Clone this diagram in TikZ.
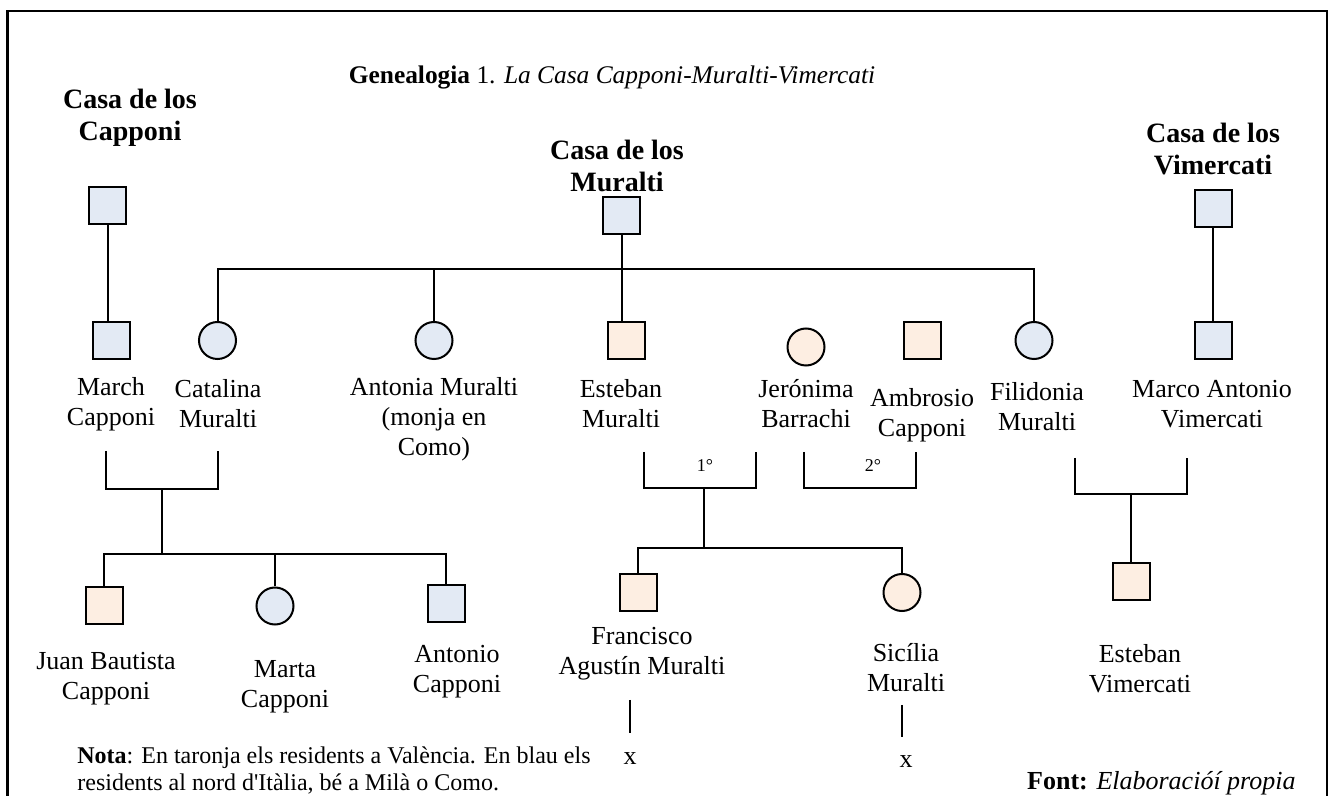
\documentclass[tikz,border=0pt]{standalone}
\usepackage{fontspec}
\setmainfont{Liberation Serif}[Ligatures=TeXOff]
\definecolor{famblue}{RGB}{227,234,244}
\definecolor{famorange}{RGB}{253,238,226}
\begin{document}
\begin{tikzpicture}[x=0.5pt,y=-0.5pt,
  person/.style={draw=black,line width=1pt,minimum size=18.5pt,inner sep=0pt},
  male/.style={person,rectangle},
  female/.style={person,circle},
  milan/.style={fill=famblue},
  valencia/.style={fill=famorange},
  link/.style={line width=1pt},
  namelbl/.style={align=center,inner sep=0pt,font=\fontsize{13}{15}\selectfont},
  househdr/.style={align=center,inner sep=0pt,font=\bfseries\fontsize{14}{16}\selectfont},
  ordinal/.style={inner sep=0pt,font=\fontsize{9}{10}\selectfont}]
\useasboundingbox (0,0) rectangle (1335,796);
% frame (open at the bottom)
\draw[line width=1.2pt] (7.5,796) -- (7.5,11) -- (1327,11) -- (1327,796);

% title and house headings
\node[inner sep=0pt,font=\fontsize{12.7}{15}\selectfont] (title) at (612,77)
  {\textbf{Genealogia} 1. \textit{La Casa Capponi-Muralti-Vimercati}};
\node[househdr] (hcap) at (130,118) {Casa de los\\Capponi};
\node[househdr] (hmur) at (617,166) {Casa de los\\Muralti};
\node[househdr] (hvim) at (1213,149) {Casa de los\\Vimercati};

% founders
\node[male,milan] (pcap) at (107.5,205.5) {};
\node[male,milan] (pmur) at (621.5,216) {};
\node[male,milan] (pvim) at (1213,208.5) {};

% second generation
\node[male,milan]       (march)     at (111.5,340.5) {};
\node[female,milan]     (catalina)  at (217.5,340.5) {};
\node[female,milan]     (antonia)   at (434,340.5) {};
\node[male,valencia]    (esteban)   at (626,340.5) {};
\node[female,valencia]  (jeronima)  at (806,347) {};
\node[male,valencia]    (ambrosio)  at (922,340.5) {};
\node[female,milan]     (filidonia) at (1034,340.5) {};
\node[male,milan]       (marco)     at (1213,340.5) {};

\node[namelbl] (lmarch) at (111,404) {March\\Capponi};
\node[namelbl] (lcat)   at (218,404) {Catalina\\Muralti};
\node[namelbl] (lant)   at (434,419) {Antonia Muralti\\(monja en\\Como)};
\node[namelbl] (lest)   at (621,404) {Esteban\\Muralti};
\node[namelbl] (ljer)   at (806,404) {Jerónima\\Barrachi};
\node[namelbl] (lamb)   at (922,415) {Ambrosio\\Capponi};
\node[namelbl] (lfil)   at (1037,407) {Filidonia\\Muralti};
\node[namelbl] (lmar)   at (1212,404) {Marco Antonio\\Vimercati};

% descent lines from the founders
\draw[link] (pcap.south) -- (pcap.south |- march.north);
\draw[link] (pvim.south) -- (pvim.south |- marco.north);
\coordinate (mbar) at (621.5,269);
\draw[link] (pmur.south) -- (mbar);
\draw[link] (catalina.north) |- (mbar) -| (filidonia.north);
\draw[link] (antonia.north) -- (antonia.north |- mbar);
\draw[link] (mbar) -- (mbar |- esteban.north);

% Capponi - Muralti marriage and children
\coordinate (cpA) at (106,451);
\coordinate (cpB) at (218,451);
\coordinate (cpM) at (162,489);
\coordinate (cpK) at (162,554);
\draw[link] (cpA) |- (cpM) -| (cpB);
\draw[link] (cpM) -- (cpK);
\node[male,valencia] (juan)    at (104,606) {};
\node[female,milan]  (marta)   at (275,606) {};
\node[male,milan]    (antonio) at (446,604) {};
\draw[link] (juan.north) |- (cpK) -| (antonio.north);
\draw[link] (marta.north) -- (marta.north |- cpK);
\node[namelbl] (ljuan)  at (106,679) {Juan Bautista\\Capponi};
\node[namelbl] (lmarta) at (285,687) {Marta\\Capponi};
\node[namelbl] (lanto)  at (457,672) {Antonio\\Capponi};

% Jerónima Barrachi's two marriages
\coordinate (e1A) at (644,452);
\coordinate (e1B) at (756,452);
\coordinate (e1M) at (704,488);
\draw[link] (e1A) |- (e1M) -| (e1B);
\node[ordinal] (o1) at (705,466) {1°};
\coordinate (e2A) at (804,452);
\coordinate (e2B) at (916,452);
\coordinate (e2M) at (860,488);
\draw[link] (e2A) |- (e2M) -| (e2B);
\node[ordinal] (o2) at (873,466) {2°};
\coordinate (e1K) at (704,548);
\draw[link] (e1M) -- (e1K);
\node[male,valencia]   (francisco) at (638,592.5) {};
\node[female,valencia] (sicilia)   at (902,592.5) {};
\draw[link] (francisco.north) |- (e1K) -| (sicilia.north);
\node[namelbl] (lfra) at (642,654) {Francisco\\Agustín Muralti};
\node[namelbl] (lsic) at (906,668) {Sicília\\Muralti};

% no descendants
\coordinate (fdA) at (630,700);
\coordinate (fdB) at (630,733);
\draw[link] (fdA) -- (fdB);
\node[namelbl] (xfra) at (630,759) {x};
\coordinate (sdA) at (902,705);
\coordinate (sdB) at (902,737);
\draw[link] (sdA) -- (sdB);
\node[namelbl] (xsic) at (906,762) {x};

% Muralti - Vimercati marriage
\coordinate (vA) at (1075,458);
\coordinate (vB) at (1187,458);
\coordinate (vM) at (1131,494);
\draw[link] (vA) |- (vM) -| (vB);
\node[male,valencia] (estvim) at (1131,581.5) {};
\draw[link] (vM) -- (estvim.north);
\node[namelbl] (lesv) at (1140,669) {Esteban\\Vimercati};

% notes
\node[align=left,anchor=west,inner sep=0pt,font=\fontsize{12}{13.5}\selectfont] (nota) at (77,771)
  {\textbf{Nota}: En taronja els residents a València. En blau els\\residents al nord d'Itàlia, bé a Milà o Como.};
\node[anchor=east,inner sep=0pt,font=\fontsize{13}{15}\selectfont] (font) at (1296,783)
  {\textbf{Font:} \textit{Elaboracióí propia}};
\end{tikzpicture}
\end{document}
